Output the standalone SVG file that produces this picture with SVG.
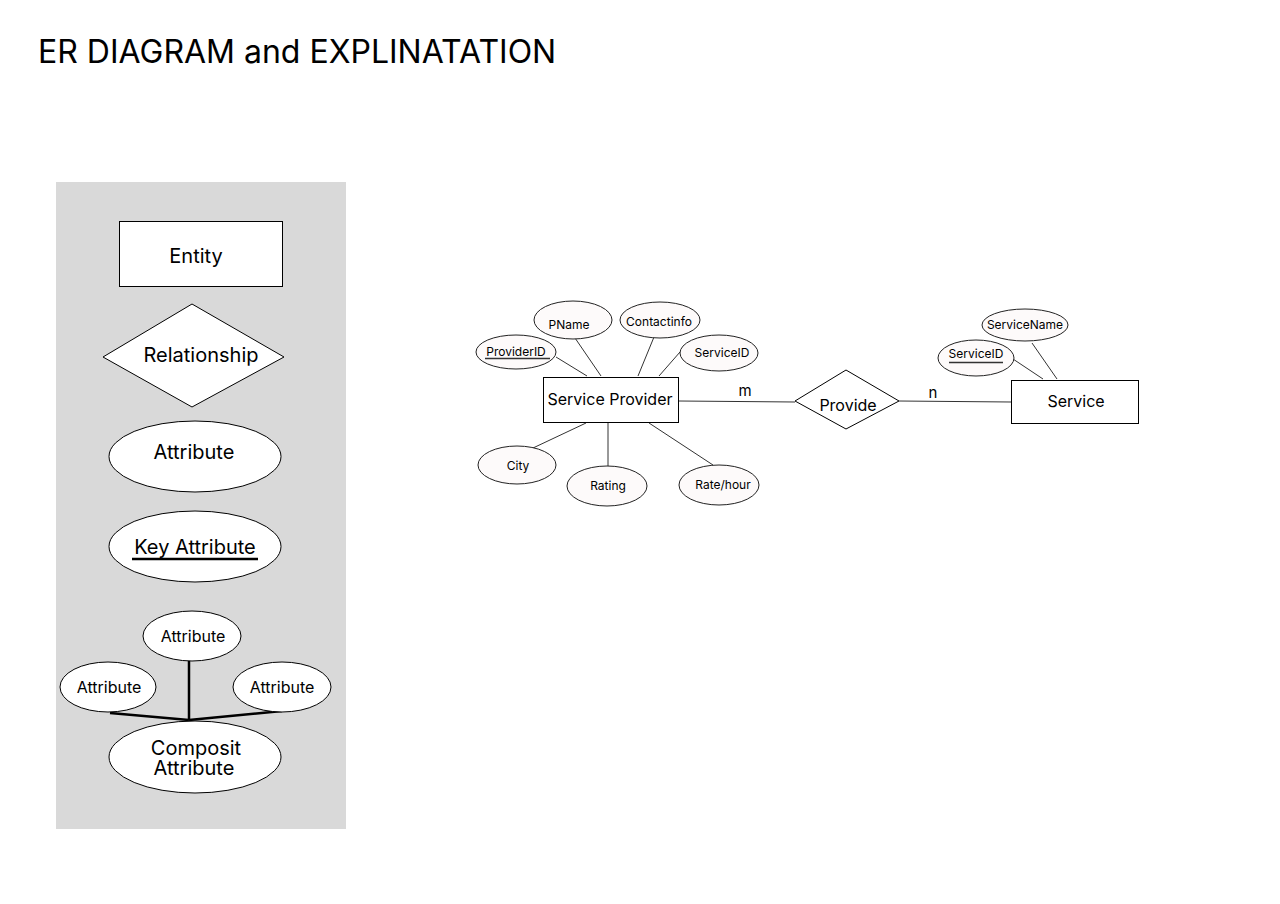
<svg xmlns="http://www.w3.org/2000/svg" width="1280" height="904" viewBox="0 0 1280 904">
<style>
.s{fill:#fff;stroke:#000;stroke-width:1}
.a{fill:#fdfafa;stroke:#222;stroke-width:1}
.t{font-family:Inter,"Liberation Sans",sans-serif;fill:#000;text-anchor:middle}
.l{stroke:#333;stroke-width:1;fill:none}
.b{stroke:#000;stroke-width:2.5;fill:none}
</style>
<rect width="1280" height="904" fill="#fff"/>
<text x="38" y="63" font-family="Inter,'Liberation Sans',sans-serif" font-size="32" fill="#000">ER DIAGRAM and EXPLINATATION</text>

<g id="legend">
<rect x="56" y="182" width="290" height="647" fill="#d9d9d9"/>
<g id="leg-entity"><rect class="s" x="119.5" y="221.5" width="163" height="65"/><text class="t" x="196" y="263" font-size="20">Entity</text></g>
<g id="leg-rel"><polygon class="s" points="103,357 192,304 284,357 192,407"/><text class="t" x="201" y="362" font-size="20">Relationship</text></g>
<g id="leg-attr"><ellipse class="s" cx="195" cy="456.5" rx="86" ry="35.5"/><text class="t" x="194" y="459" font-size="20">Attribute</text></g>
<g id="leg-key"><ellipse class="s" cx="195" cy="546.5" rx="86" ry="35.5"/><text class="t" x="195" y="554" font-size="20">Key Attribute</text><line x1="132" y1="559" x2="258" y2="559" stroke="#000" stroke-width="2.5"/></g>
<g id="leg-comp">
<line class="b" x1="189" y1="661" x2="189" y2="720"/>
<line class="b" x1="110" y1="713" x2="189" y2="720"/>
<line class="b" x1="282" y1="711" x2="189" y2="720"/>
<ellipse class="s" cx="192" cy="636" rx="49" ry="25"/><text class="t" x="193" y="642" font-size="16">Attribute</text>
<ellipse class="s" cx="108" cy="687" rx="48" ry="25"/><text class="t" x="109" y="693" font-size="16">Attribute</text>
<ellipse class="s" cx="282" cy="687" rx="49" ry="25"/><text class="t" x="282" y="693" font-size="16">Attribute</text>
<ellipse class="s" cx="195" cy="757" rx="86" ry="36"/>
<text class="t" x="196" y="755" font-size="20">Composit</text>
<text class="t" x="194" y="775" font-size="20">Attribute</text>
</g>
</g>

<g id="connectors">
<line class="l" x1="556" y1="357" x2="587" y2="376"/>
<line class="l" x1="575" y1="338" x2="601" y2="376"/>
<line class="l" x1="654" y1="337" x2="638" y2="376"/>
<line class="l" x1="680" y1="352" x2="659" y2="376"/>
<line class="l" x1="533" y1="448" x2="586" y2="423"/>
<line class="l" x1="608" y1="423" x2="608" y2="466"/>
<line class="l" x1="649" y1="423" x2="713" y2="465"/>
<line class="l" x1="679" y1="401" x2="795" y2="402"/>
<line class="l" x1="899" y1="401" x2="1011" y2="402"/>
<line class="l" x1="1013" y1="359" x2="1043" y2="379"/>
<line class="l" x1="1032" y1="343" x2="1057" y2="379"/>
<text x="745" y="396" font-family="Inter,'Liberation Sans',sans-serif" font-size="15" text-anchor="middle">m</text>
<text x="933" y="398" font-family="Inter,'Liberation Sans',sans-serif" font-size="15" text-anchor="middle">n</text>
</g>

<g id="service-provider"><rect class="s" x="543.5" y="377.5" width="135" height="45"/><text class="t" x="610" y="405" font-size="16">Service Provider</text></g>
<g id="provide"><polygon class="s" points="795,401 846,370 899,401 846,429"/><text class="t" x="848" y="411" font-size="16">Provide</text></g>
<g id="service"><rect class="s" x="1011.5" y="380.5" width="127" height="43"/><text class="t" x="1076" y="407" font-size="16">Service</text></g>

<g id="attr-providerid"><ellipse class="a" cx="516" cy="352" rx="40" ry="17"/><text class="t" x="516" y="356" font-size="12">ProviderID</text><line x1="485" y1="358.5" x2="550" y2="358.5" stroke="#333" stroke-width="1.5"/></g>
<g id="attr-pname"><ellipse class="a" cx="573" cy="320" rx="39" ry="19"/><text class="t" x="569" y="329" font-size="12">PName</text></g>
<g id="attr-contactinfo"><ellipse class="a" cx="660" cy="320" rx="40" ry="18"/><text class="t" x="659" y="326" font-size="12">Contactinfo</text></g>
<g id="attr-serviceid-sp"><ellipse class="a" cx="719" cy="353" rx="39" ry="18"/><text class="t" x="722" y="357" font-size="12">ServiceID</text></g>
<g id="attr-city"><ellipse class="a" cx="517" cy="465" rx="39" ry="19"/><text class="t" x="518" y="470" font-size="12">City</text></g>
<g id="attr-rating"><ellipse class="a" cx="607" cy="486" rx="40" ry="20"/><text class="t" x="608" y="490" font-size="12">Rating</text></g>
<g id="attr-ratehour"><ellipse class="a" cx="719" cy="485" rx="40" ry="20"/><text class="t" x="723" y="489" font-size="12">Rate/hour</text></g>
<g id="attr-servicename"><ellipse class="a" cx="1025" cy="325" rx="43" ry="16"/><text class="t" x="1025" y="329" font-size="12">ServiceName</text></g>
<g id="attr-serviceid-s"><ellipse class="a" cx="976" cy="358" rx="38" ry="18"/><text class="t" x="976" y="358" font-size="12">ServiceID</text><line x1="949" y1="362.5" x2="1003" y2="362.5" stroke="#333" stroke-width="1.5"/></g>
</svg>
